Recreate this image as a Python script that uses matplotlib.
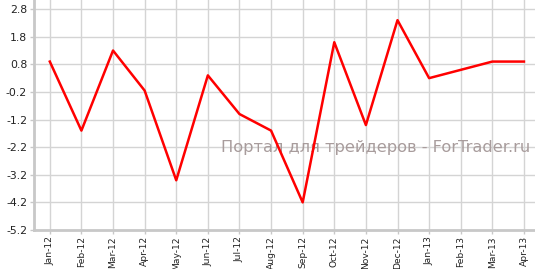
import matplotlib.pyplot as plt

months = ['Jan-12', 'Feb-12', 'Mar-12', 'Apr-12', 'May-12', 'Jun-12', 'Jul-12', 'Aug-12',
          'Sep-12', 'Oct-12', 'Nov-12', 'Dec-12', 'Jan-13', 'Feb-13', 'Mar-13', 'Apr-13']
values = [0.9, -1.6, 1.3, -0.15, -3.4, 0.4, -1.0, -1.6,
          -4.2, 1.6, -1.4, 2.4, 0.3, 0.6, 0.9, 0.9]
yticks = [2.8, 1.8, 0.8, -0.2, -1.2, -2.2, -3.2, -4.2, -5.2]

fig = plt.figure(figsize=(5.35, 2.69), dpi=100)
ax = fig.add_axes([34/535, 1 - 230/269, 1 - 34/535, 230/269])

x = list(range(len(months)))
ax.plot(x, values, color='#ff0000', lw=1.8, zorder=5)

ax.set_xlim(-0.5, 15.35)
ax.set_ylim(-5.2, 3.13)
ax.set_xticks(x)
ax.set_xticklabels(months, rotation=90, fontsize=6.6, color='#222222')
ax.set_yticks(yticks)
ax.set_yticklabels(['%.1f' % v for v in yticks], fontsize=7.8, color='#222222')
ax.grid(True, color='#d4d4d4', lw=1)
ax.set_axisbelow(True)
for s in ['top', 'right']:
    ax.spines[s].set_visible(False)
for s in ['left', 'bottom']:
    ax.spines[s].set_color('#c8c8c8')
    ax.spines[s].set_linewidth(2)
ax.tick_params(colors='#c8c8c8', length=3, width=1, pad=2)
ax.tick_params(axis='x', pad=1.5)
ax.tick_params(labelcolor='#222222')

ax.text(0.99, 0.36, 'Портал для трейдеров - ForTrader.ru', transform=ax.transAxes,
        ha='right', va='center', fontsize=11.7, color='#a89c9c', zorder=4)

fig.savefig('out.png', dpi=100)
